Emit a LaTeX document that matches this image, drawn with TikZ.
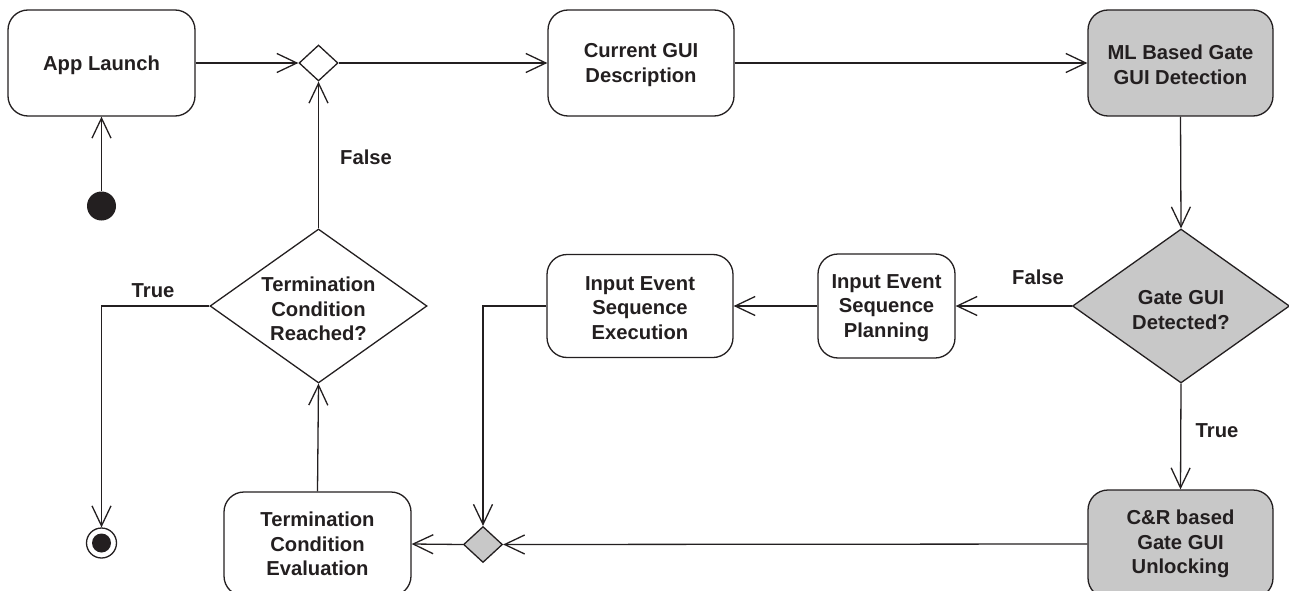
\documentclass[tikz,border=0pt]{standalone}
\usepackage{fontspec}
\setmainfont{Liberation Sans}
\usetikzlibrary{arrows.meta,shapes.geometric}
\definecolor{ink}{RGB}{35,31,32}
\definecolor{gatefill}{RGB}{200,200,200}
\newcommand\diagfont{\fontsize{20.2}{24.5}\selectfont\bfseries}
\begin{document}
\begin{tikzpicture}[x=1pt,y=-1pt,
  act/.style={draw=ink, line width=1.3pt, rounded corners=20pt, align=center,
              font=\diagfont, text=ink, inner sep=0pt},
  gate/.style={act, fill=gatefill},
  dia/.style={draw=ink, line width=1.3pt, diamond, inner sep=0pt,
              minimum width=217pt, minimum height=154pt},
  smalldia/.style={draw=ink, line width=1.3pt, diamond, inner sep=0pt,
              minimum width=39pt, minimum height=36pt},
  txt/.style={align=center, font=\diagfont, text=ink, inner sep=0pt},
  flow/.style={draw=ink, line width=1.3pt,
               -{Straight Barb[length=20pt,width=19pt,line width=1.3pt]}}]
\useasboundingbox (0,0) rectangle (1289,591);

% activities
\node[act, minimum width=187pt, minimum height=106pt] (launch) at (101.5,63) {};
\node[txt] (launchtext) at (101.5,65) {App Launch};
\node[act, minimum width=186pt, minimum height=106pt] (cur) at (641,63) {};
\node[txt] (curtext) at (641,65) {Current GUI\\Description};
\node[gate, minimum width=185pt, minimum height=106pt] (ml) at (1180.5,63) {};
\node[txt] (mltext) at (1180.5,65) {ML Based Gate\\GUI Detection};
\node[act, minimum width=137pt, minimum height=104pt] (plan) at (886.5,306) {};
\node[txt] (plantext) at (886.5,308) {Input Event\\Sequence\\Planning};
\node[act, minimum width=186pt, minimum height=103pt] (exec) at (640,306) {};
\node[txt] (exectext) at (640,308) {Input Event\\Sequence\\Execution};
\node[gate, minimum width=185pt, minimum height=108pt] (cr) at (1180.5,544) {};
\node[txt] (crtext) at (1180.5,544) {C\&R based\\Gate GUI\\Unlocking};
\node[act, minimum width=187pt, minimum height=104pt] (eval) at (317.5,544) {};
\node[txt] (evaltext) at (317.5,544) {Termination\\Condition\\Evaluation};

% decisions and merges
\node[smalldia] (merge) at (318.5,63) {};
\node[smalldia, fill=gatefill] (join) at (483,544.5) {};
\node[dia, fill=gatefill] (gd) at (1181,306) {};
\node[txt] (gdtext) at (1181,310) {Gate GUI\\Detected?};
\node[dia] (tr) at (318.5,306) {};
\node[txt] (trtext) at (318.5,309) {Termination\\Condition\\Reached?};

% initial and final nodes
\node[circle, fill=ink, inner sep=0pt, minimum size=29pt] (start) at (101.5,206) {};
\node[circle, draw=ink, line width=1.3pt, inner sep=0pt, minimum size=30pt] (end) at (101.5,543) {};
\node[circle, fill=ink, inner sep=0pt, minimum size=19pt] (endin) at (end) {};

% control flow
\draw[flow] (start.north) -- (launch.south);
\draw[flow] (launch.east) -- (merge.west);
\draw[flow] (merge.east) -- (cur.west);
\draw[flow] (cur.east) -- (ml.west);
\draw[flow] (ml.south) -- (gd.north);
\draw[flow] (gd.west) -- (plan.east);
\draw[flow] (plan.west) -- (exec.east);
\draw[flow] (exec.west) -| (join.north);
\draw[flow] (gd.south) -- (cr.north);
\draw[flow] (cr.west) -- (join.east);
\draw[flow] (join.west) -- (eval.east);
\draw[flow] (eval.north) -- (tr.south);
\draw[flow] (tr.north) -- (merge.south);
\draw[flow] (tr.west) -| (end.north);

% guards
\node[txt] (lfalse) at (366,157) {False};
\node[txt] (ltrue) at (153,291) {True};
\node[txt] (rfalse) at (1038,277) {False};
\node[txt] (rtrue) at (1217,431) {True};
\end{tikzpicture}
\end{document}
